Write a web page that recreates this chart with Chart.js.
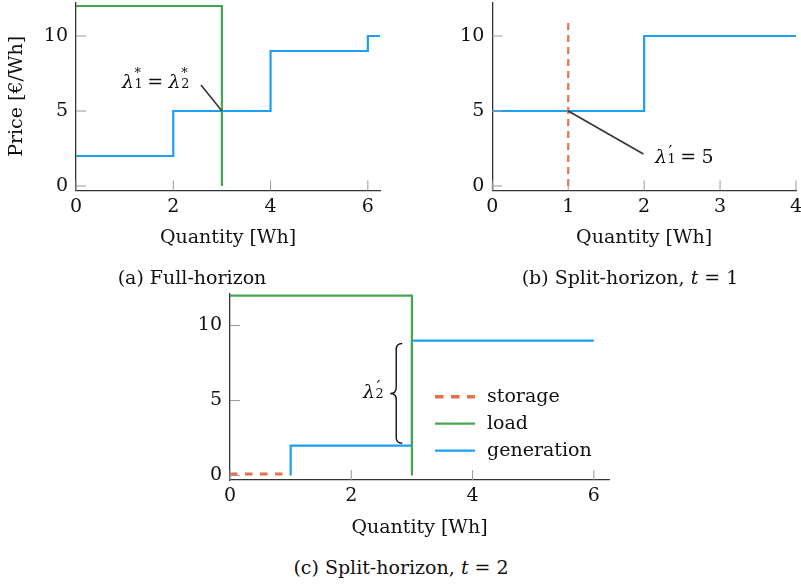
<!DOCTYPE html>
<html>
<head>
<meta charset="utf-8">
<script src="https://cdn.jsdelivr.net/npm/chart.js@4.4.1/dist/chart.umd.min.js"></script>
<style>
  html, body { margin: 0; padding: 0; background: #fff; }
  #page { position: relative; width: 801px; height: 584px; overflow: hidden; font-family: "DejaVu Serif"; color: #111; }
  canvas { position: absolute; }
  .txt { position: absolute; font-size: 19px; white-space: nowrap; transform: translateY(-50%); line-height: 1; }
  .cap { transform: translate(-50%, -50%); }
  .m { font-style: italic; }
  .ss { display: inline-block; position: relative; width: 0.42em; height: 1em; }
  .ss span { position: absolute; left: 0.04em; font-size: 0.68em; font-style: normal; }
  .ss .up { top: -0.15em; }
  .ss .pr { top: -0.05em; left: 0.08em; font-size: 0.9em; }
  .ss .dn { top: 0.7em; }
  .eq { margin: 0 0.28em; font-style: normal; }
</style>
</head>
<body>
<div id="page">
  <canvas id="chartA" width="400" height="255" style="left:0;top:0"></canvas>
  <canvas id="chartB" width="401" height="255" style="left:400px;top:0"></canvas>
  <canvas id="chartC" width="490" height="260" style="left:140px;top:285px"></canvas>

  <div class="txt" style="left:122px;top:80px"><span class="m">λ</span><span class="ss"><span class="up">*</span><span class="dn">1</span></span><span class="eq">=</span><span class="m">λ</span><span class="ss"><span class="up">*</span><span class="dn">2</span></span></div>
  <div class="txt" style="left:655px;top:155px"><span class="m">λ</span><span class="ss"><span class="pr">′</span><span class="dn">1</span></span><span class="eq">=</span>5</div>
  <div class="txt" style="left:363px;top:390px"><span class="m">λ</span><span class="ss"><span class="pr">′</span><span class="dn">2</span></span></div>

  <div class="txt cap" style="left:192px;top:277px">(a) Full-horizon</div>
  <div class="txt cap" style="left:630px;top:277px">(b) Split-horizon, <span class="m">t</span> = 1</div>
  <div class="txt cap" style="left:401px;top:567px">(c) Split-horizon, <span class="m">t</span> = 2</div>
</div>
<script>
// (a) full horizon
const genAQty = [0, 2, 2, 4, 4, 6, 6, 6.25];
const genAPrice = [2, 2, 5, 5, 9, 9, 10, 10];
const loadAQty = [0, 3, 3];
const loadAPrice = [12, 12, 0];
const noteAQty = [3, 2.57];
const noteAPrice = [5, 6.73];
const xTicksA = [0, 2, 4, 6];

// (b) split horizon, t = 1
const genBQty = [0, 2, 2, 4];
const genBPrice = [5, 5, 10, 10];
const storBQty = [1, 1];
const storBPrice = [0, 11];
const noteBQty = [1, 1.99];
const noteBPrice = [5, 2.13];
const xTicksB = [0, 1, 2, 3, 4];

// (c) split horizon, t = 2
const genCQty = [1, 1, 3, 3, 6];
const genCPrice = [0, 2, 2, 9, 9];
const loadCQty = [0, 3, 3];
const loadCPrice = [12, 12, 0];
const storCQty = [0, 1];
const storCPrice = [0.1, 0.1];
const braceQty = 2.84;
const bracePrice = [8.8, 2.15];
const xTicksC = [0, 2, 4, 6];

const yTicks = [0, 5, 10];
const legendNames = ['storage', 'load', 'generation'];

const GREEN = '#45a651', BLUE = '#1c9ff3', ORANGE = '#e8714a', INK = '#333';
const FONT = '"DejaVu Serif"';

Chart.defaults.font.family = FONT;
Chart.defaults.font.size = 19;
Chart.defaults.color = '#111';

function series(qty, price, style) {
  return Object.assign({
    data: qty.map((q, i) => ({ x: q, y: price[i] })),
    showLine: true, pointRadius: 0, fill: false, borderWidth: 2.2
  }, style);
}

// short grey ticks pointing into the plot
const innerTicks = {
  id: 'innerTicks',
  afterDraw(chart) {
    const { ctx, chartArea: a, scales } = chart;
    ctx.save();
    ctx.strokeStyle = '#999';
    ctx.lineWidth = 1;
    ctx.beginPath();
    scales.x.ticks.forEach(t => {
      const px = scales.x.getPixelForValue(t.value);
      ctx.moveTo(px, a.bottom); ctx.lineTo(px, a.bottom - 10);
    });
    scales.y.ticks.forEach(t => {
      const py = scales.y.getPixelForValue(t.value);
      ctx.moveTo(a.left, py); ctx.lineTo(a.left + 10, py);
    });
    ctx.stroke();
    ctx.restore();
  }
};

const braceC = {
  id: 'braceC',
  afterDatasetsDraw(chart) {
    const { ctx, scales } = chart;
    const x0 = scales.x.getPixelForValue(braceQty);
    const y1 = scales.y.getPixelForValue(bracePrice[0]);
    const y2 = scales.y.getPixelForValue(bracePrice[1]);
    const ym = (y1 + y2) / 2, w = 12, r = 6, xm = x0 - w / 2, xc = x0 - w;
    ctx.save();
    ctx.strokeStyle = '#111';
    ctx.lineWidth = 1.4;
    ctx.beginPath();
    ctx.moveTo(x0, y1);
    ctx.quadraticCurveTo(xm, y1, xm, y1 + r);
    ctx.lineTo(xm, ym - r);
    ctx.quadraticCurveTo(xm, ym, xc, ym);
    ctx.quadraticCurveTo(xm, ym, xm, ym + r);
    ctx.lineTo(xm, y2 - r);
    ctx.quadraticCurveTo(xm, y2, x0, y2);
    ctx.stroke();
    ctx.restore();
  }
};

const legendC = {
  id: 'legendC',
  afterDraw(chart) {
    const ctx = chart.ctx;
    ctx.save();
    ctx.font = '19px ' + FONT;
    ctx.fillStyle = '#111';
    ctx.textBaseline = 'middle';
    legendNames.forEach((name, i) => {
      const d = chart.data.datasets.find(s => s.label === name);
      const y = 111.7 + i * 27;
      ctx.strokeStyle = d.borderColor;
      ctx.lineWidth = name === 'storage' ? 3.6 : d.borderWidth;
      ctx.setLineDash(name === 'storage' ? [8.5, 7.5] : []);
      ctx.beginPath();
      ctx.moveTo(295, y); ctx.lineTo(335, y);
      ctx.stroke();
      ctx.fillText(name, 347, y);
    });
    ctx.restore();
  }
};

function plot(id, o) {
  return new Chart(document.getElementById(id), {
    type: 'scatter',
    data: { datasets: o.datasets },
    options: {
      responsive: false,
      animation: false,
      layout: { padding: { top: o.padTop, right: o.padRight, left: 0, bottom: 0 } },
      plugins: { legend: { display: false }, tooltip: { enabled: false } },
      scales: {
        x: {
          type: 'linear', min: 0, max: o.xMax,
          grid: { drawOnChartArea: false, drawTicks: false },
          border: { color: INK, width: 1.3 },
          ticks: { padding: 5, maxRotation: 0, autoSkip: false },
          afterBuildTicks: s => { s.ticks = o.xTicks.map(v => ({ value: v })); },
          afterFit: s => { s.height = o.xAxisH; s.paddingLeft = 0; s.paddingRight = 0; },
          title: { display: true, text: 'Quantity [Wh]', padding: { top: 4, bottom: 6 } }
        },
        y: {
          type: 'linear', min: -0.3, max: o.yMax,
          grid: { drawOnChartArea: false, drawTicks: false },
          border: { color: INK, width: 1.3 },
          ticks: { padding: 8 },
          afterBuildTicks: s => { s.ticks = yTicks.map(v => ({ value: v })); },
          afterFit: s => { s.width = o.yAxisW; s.paddingTop = 0; s.paddingBottom = 0; },
          title: { display: !!o.yTitle, text: o.yTitle || '', padding: { top: 6, bottom: 4 } }
        }
      }
    },
    plugins: [innerTicks].concat(o.extra || [])
  });
}

plot('chartA', {
  datasets: [
    series(noteAQty, noteAPrice, { borderColor: INK, borderWidth: 1.6 }),
    series(loadAQty, loadAPrice, { label: 'load', borderColor: GREEN }),
    series(genAQty, genAPrice, { label: 'generation', borderColor: BLUE })
  ],
  xMax: 6.25, yMax: 12.25, xTicks: xTicksA,
  yAxisW: 76, xAxisH: 64.5, padTop: 2.25, padRight: 20,
  yTitle: 'Price [€/Wh]'
});

plot('chartB', {
  datasets: [
    series(noteBQty, noteBPrice, { borderColor: INK, borderWidth: 1.6 }),
    series(storBQty, storBPrice, { label: 'storage', borderColor: ORANGE, borderWidth: 2.2, borderDash: [7, 5] }),
    series(genBQty, genBPrice, { label: 'generation', borderColor: BLUE })
  ],
  xMax: 4, yMax: 12.25, xTicks: xTicksB,
  yAxisW: 92.3, xAxisH: 64.5, padTop: 2.25, padRight: 5
});

plot('chartC', {
  datasets: [
    Object.assign(series(storCQty, storCPrice, { label: 'storage', borderColor: ORANGE, borderWidth: 3, borderDash: [7.5, 7.5] }), { order: 2 }),
    Object.assign(series(loadCQty, loadCPrice, { label: 'load', borderColor: GREEN }), { order: 0 }),
    Object.assign(series(genCQty, genCPrice, { label: 'generation', borderColor: BLUE }), { order: 1 })
  ],
  xMax: 6.25, yMax: 12.15, xTicks: xTicksC,
  yAxisW: 90, xAxisH: 64.95, padTop: 8.3, padRight: 21,
  extra: [braceC, legendC]
});
</script>
</body>
</html>
